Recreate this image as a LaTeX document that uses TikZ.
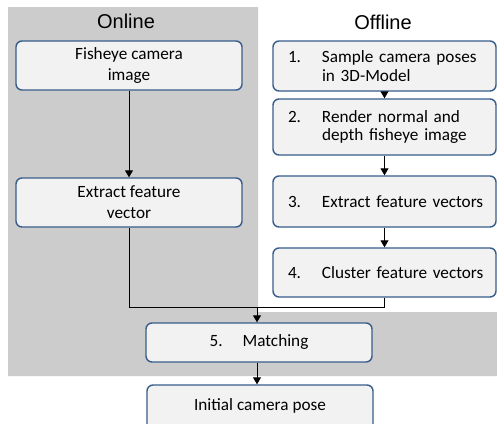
\documentclass[tikz,border=0pt]{standalone}
\usepackage{fontspec}
\setmainfont{Carlito}
\newfontfamily\titlefont{Liberation Sans}
\usetikzlibrary{arrows.meta}

\definecolor{panelgray}{HTML}{CCCCCC}
\definecolor{boxfill}{HTML}{F2F2F2}
\definecolor{boxline}{HTML}{385D8A}

\tikzset{
  stepbox/.style={draw=boxline, fill=boxfill, line width=1.4pt,
    rounded corners=6pt, inner sep=0pt,
    font=\fontsize{17.2}{21}\selectfont},
  numbox/.style={stepbox, align=left, inner xsep=15pt,
    text width=193pt, font=\fontsize{17.2}{18.5}\selectfont},
  coltitle/.style={font=\titlefont\fontsize{20}{24}\selectfont, inner sep=0pt},
  flow/.style={draw=black, line width=0.9pt},
  flowarrow/.style={flow, -{Triangle[width=8pt,length=7pt]}}
}

% one unbroken line of a numbered step: number column, then text
\newcommand{\numline}[2]{\mbox{\makebox[34pt][l]{#1}#2}}

\begin{document}
\begin{tikzpicture}[x=1pt, y=-1pt]
  \useasboundingbox (0,0) rectangle (497,423);
  \clip (0,0) rectangle (497,423);
  \fill[white] (0,0) rectangle (497,423);

  % shaded online area, extended under the matching step
  \fill[panelgray] (8,7) -- (258,7) -- (258,312) -- (497,312)
    -- (497,376) -- (8,376) -- cycle;

  % column headings
  \node[coltitle] (tonline) at (126,21) {Online};
  \node[coltitle] (toffline) at (383,22) {Offline};

  % online steps
  \node[stepbox, align=center, minimum width=226pt, minimum height=49pt]
    (fish) at (129,65.5) {Fisheye camera\\image};
  \node[stepbox, align=center, minimum width=226pt, minimum height=49pt]
    (ext) at (129,202.5) {Extract feature\\vector};

  % offline steps
  \node[numbox, minimum width=223pt, minimum height=50pt]
    (b1) at (384.5,66) {\numline{1.}{Sample camera poses}\\\numline{}{in 3D-Model}};
  \node[numbox, minimum width=223pt, minimum height=56pt]
    (b2) at (384.5,127) {\numline{2.}{Render normal and}\\\numline{}{depth fisheye image}};
  \node[numbox, minimum width=223pt, minimum height=51pt]
    (b3) at (384.5,201.5) {\numline{3.}{Extract feature vectors}};
  \node[numbox, minimum width=223pt, minimum height=49pt]
    (b4) at (384.5,272.5) {\numline{4.}{Cluster feature vectors}};

  % shared steps
  \node[stepbox, minimum width=226pt, minimum height=39pt]
    (match) at (259,342.5) {\makebox[33pt][l]{5.}Matching};
  \node[stepbox, minimum width=226pt, minimum height=50pt]
    (init) at (260,410) {};
  \node[inner sep=0pt, font=\fontsize{17.2}{21}\selectfont]
    (initlbl) at (260,406) {Initial camera pose};

  % connectors
  \coordinate (join) at (257,307);
  \draw[flowarrow] (fish.south) -- (ext.north);
  \draw[flowarrow] (b1.south) -- (b2.north);
  \draw[flowarrow] (b2.south) -- (b3.north);
  \draw[flowarrow] (b3.south) -- (b4.north);
  \draw[flow] (ext.south) |- (join);
  \draw[flow] (b4.south) |- (join);
  \draw[flowarrow] (join) -- (join |- match.north);
  \draw[flowarrow] (join |- match.south) -- (join |- init.north);
\end{tikzpicture}
\end{document}
